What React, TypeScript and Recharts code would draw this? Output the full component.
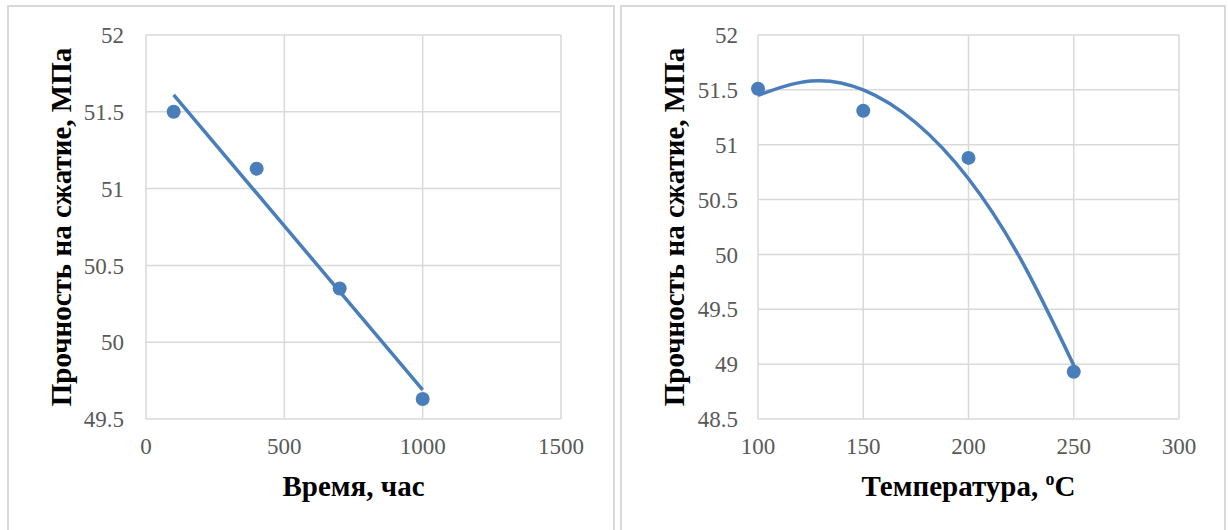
import { CartesianGrid, ComposedChart, Label, Line, Scatter, XAxis, YAxis } from "recharts";

const timeHours = [100, 400, 700, 1000];
const strengthByTime = [51.5, 51.13, 50.35, 49.63];
const timeTrendX = [100, 1000];
const timeTrendY = [51.61, 49.69];
const timeTicks = [0, 500, 1000, 1500];
const timeYTicks = [49.5, 50, 50.5, 51, 51.5, 52];

const tempC = [100, 150, 200, 250];
const strengthByTemp = [51.51, 51.31, 50.88, 48.93];
const tempTrendX = [100, 125, 150, 175, 200, 225, 250];
const tempTrendY = [51.45, 51.58, 51.5, 51.2, 50.69, 49.95, 48.99];
const tempTicks = [100, 150, 200, 250, 300];
const tempYTicks = [48.5, 49, 49.5, 50, 50.5, 51, 51.5, 52];

const yTitle = "Прочность на сжатие, МПа";

const blue = "#4a7ebb";
const grid = "#d9d9d9";
const serif = "Liberation Serif, DejaVu Serif, Times New Roman, serif";
const tickStyle = { fontSize: 23, fill: "#595959", style: { fontFamily: serif } };

const zip = (xs: number[], ys: number[]) => xs.map((x, i) => ({ x, y: ys[i] }));

const Dot = (props: any) => <circle cx={props.cx} cy={props.cy} r={7} fill={blue} />;

function YTitle({ viewBox }: any) {
  const cy = viewBox.y + viewBox.height / 2;
  return (
    <text
      transform={`translate(64, ${cy}) rotate(-90)`}
      textAnchor="middle"
      style={{ fontFamily: serif, fontWeight: "bold", fontSize: 29 }}
      fill="#000"
    >
      {yTitle}
    </text>
  );
}

function XTitle({ viewBox, children }: any) {
  const cx = viewBox.x + viewBox.width / 2;
  return (
    <text x={cx} y={496} textAnchor="middle" style={{ fontFamily: serif, fontWeight: "bold", fontSize: 29 }} fill="#000">
      {children}
    </text>
  );
}

const box = (left: number, width: number): React.CSSProperties => ({
  position: "absolute",
  left,
  top: 5,
  width,
  height: 600,
  border: `2px solid ${grid}`,
  boxSizing: "border-box"
});

export default function App() {
  return (
    <div
      style={{
        position: "absolute",
        left: 0,
        top: 0,
        width: 1228,
        height: 530,
        overflow: "hidden",
        background: "#fff",
        fontFamily: serif
      }}
    >
      <div style={box(7, 608)} />
      <div style={box(620, 606)} />

      <div style={{ position: "absolute", left: 7, top: 0 }}>
        <ComposedChart width={610} height={530} margin={{ top: 35, right: 56, bottom: 71, left: 0 }}>
          <CartesianGrid stroke={grid} strokeWidth={1.5} />
          <XAxis
            dataKey="x"
            type="number"
            domain={[0, 1500]}
            ticks={timeTicks}
            axisLine={false}
            tickLine={false}
            tickSize={0}
            tickMargin={19}
            height={40}
            tick={tickStyle}
          >
            <Label content={(p: any) => <XTitle {...p}>Время, час</XTitle>} />
          </XAxis>
          <YAxis
            dataKey="y"
            type="number"
            domain={[49.5, 52]}
            ticks={timeYTicks}
            axisLine={false}
            tickLine={false}
            tickSize={0}
            tickMargin={22}
            width={139}
            tick={tickStyle}
          >
            <Label content={(p: any) => <YTitle {...p} />} />
          </YAxis>
          <Scatter data={zip(timeHours, strengthByTime)} dataKey="y" shape={Dot} isAnimationActive={false} />
          <Line
            data={zip(timeTrendX, timeTrendY)}
            dataKey="y"
            type="linear"
            stroke={blue}
            strokeWidth={3.5}
            dot={false}
            activeDot={false}
            isAnimationActive={false}
          />
        </ComposedChart>
      </div>

      <div style={{ position: "absolute", left: 620, top: 0 }}>
        <ComposedChart width={610} height={530} margin={{ top: 35, right: 51, bottom: 71, left: 0 }}>
          <CartesianGrid stroke={grid} strokeWidth={1.5} />
          <XAxis
            dataKey="x"
            type="number"
            domain={[100, 300]}
            ticks={tempTicks}
            axisLine={false}
            tickLine={false}
            tickSize={0}
            tickMargin={19}
            height={40}
            tick={tickStyle}
          >
            <Label
              content={(p: any) => (
                <XTitle {...p}>
                  <tspan>Температура, </tspan>
                  <tspan fontSize={18} dy={-11}>o</tspan>
                  <tspan dy={11}>C</tspan>
                </XTitle>
              )}
            />
          </XAxis>
          <YAxis
            dataKey="y"
            type="number"
            domain={[48.5, 52]}
            ticks={tempYTicks}
            axisLine={false}
            tickLine={false}
            tickSize={0}
            tickMargin={20}
            width={138}
            tick={tickStyle}
          >
            <Label content={(p: any) => <YTitle {...p} />} />
          </YAxis>
          <Scatter data={zip(tempC, strengthByTemp)} dataKey="y" shape={Dot} isAnimationActive={false} />
          <Line
            data={zip(tempTrendX, tempTrendY)}
            dataKey="y"
            type="natural"
            stroke={blue}
            strokeWidth={3.5}
            dot={false}
            activeDot={false}
            isAnimationActive={false}
          />
        </ComposedChart>
      </div>
    </div>
  );
}
